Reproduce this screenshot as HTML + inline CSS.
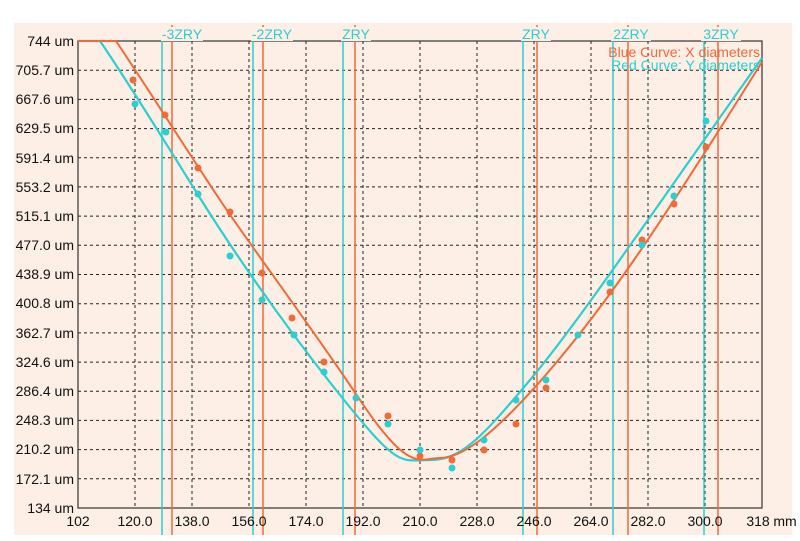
<!DOCTYPE html><html><head><meta charset="utf-8"><style>body{margin:0;background:#fff}svg{display:block}text{font-family:"Liberation Sans",sans-serif}</style></head><body>
<svg width="800" height="541" xmlns="http://www.w3.org/2000/svg">
<rect x="14" y="23" width="778" height="512" fill="#fdefe5"/>
<g stroke="#222" stroke-dasharray="3,3" stroke-width="1">
<line x1="78" y1="70.2" x2="762" y2="70.2"/><line x1="78" y1="99.4" x2="762" y2="99.4"/><line x1="78" y1="128.6" x2="762" y2="128.6"/><line x1="78" y1="157.8" x2="762" y2="157.8"/><line x1="78" y1="186.9" x2="762" y2="186.9"/><line x1="78" y1="216.1" x2="762" y2="216.1"/><line x1="78" y1="245.3" x2="762" y2="245.3"/><line x1="78" y1="274.5" x2="762" y2="274.5"/><line x1="78" y1="303.7" x2="762" y2="303.7"/><line x1="78" y1="332.9" x2="762" y2="332.9"/><line x1="78" y1="362.1" x2="762" y2="362.1"/><line x1="78" y1="391.3" x2="762" y2="391.3"/><line x1="78" y1="420.4" x2="762" y2="420.4"/><line x1="78" y1="449.6" x2="762" y2="449.6"/><line x1="78" y1="478.8" x2="762" y2="478.8"/>
<line x1="135" y1="41" x2="135" y2="508"/><line x1="192" y1="41" x2="192" y2="508"/><line x1="249" y1="41" x2="249" y2="508"/><line x1="306" y1="41" x2="306" y2="508"/><line x1="363" y1="41" x2="363" y2="508"/><line x1="420" y1="41" x2="420" y2="508"/><line x1="477" y1="41" x2="477" y2="508"/><line x1="534" y1="41" x2="534" y2="508"/><line x1="591" y1="41" x2="591" y2="508"/><line x1="648" y1="41" x2="648" y2="508"/><line x1="705" y1="41" x2="705" y2="508"/>
</g>
<rect x="78" y="41" width="684" height="467" fill="none" stroke="#333" stroke-width="1.2"/>
<g stroke-width="1.5">
<line x1="162" y1="38" x2="162" y2="535" stroke="#2ccfcf"/><line x1="172" y1="25" x2="172" y2="535" stroke="#f06a3a"/>
<line x1="253" y1="38" x2="253" y2="535" stroke="#2ccfcf"/><line x1="263" y1="25" x2="263" y2="535" stroke="#f06a3a"/>
<line x1="343" y1="38" x2="343" y2="535" stroke="#2ccfcf"/><line x1="355" y1="25" x2="355" y2="535" stroke="#f06a3a"/>
<line x1="523" y1="38" x2="523" y2="535" stroke="#2ccfcf"/><line x1="537" y1="25" x2="537" y2="535" stroke="#f06a3a"/>
<line x1="613" y1="38" x2="613" y2="535" stroke="#2ccfcf"/><line x1="628" y1="25" x2="628" y2="535" stroke="#f06a3a"/>
<line x1="704" y1="38" x2="704" y2="535" stroke="#2ccfcf"/><line x1="718" y1="25" x2="718" y2="535" stroke="#f06a3a"/>
</g>
<g font-size="14" fill="#2ccfcf" text-anchor="middle">
<rect x="161" y="27" width="42" height="14" fill="#fdefe5"/><text x="182" y="39">-3ZRY</text>
<rect x="251" y="27" width="42" height="14" fill="#fdefe5"/><text x="272" y="39">-2ZRY</text>
<rect x="341" y="27" width="30" height="14" fill="#fdefe5"/><text x="356" y="39">ZRY</text>
<rect x="521" y="27" width="30" height="14" fill="#fdefe5"/><text x="536" y="39">ZRY</text>
<rect x="611" y="27" width="40" height="14" fill="#fdefe5"/><text x="631" y="39">2ZRY</text>
<rect x="701" y="27" width="40" height="14" fill="#fdefe5"/><text x="721" y="39">3ZRY</text>
</g>
<text x="760" y="57" font-size="14" fill="#f06a3a" text-anchor="end">Blue Curve: X diameters</text>
<text x="760" y="70" font-size="14" fill="#2ccfcf" text-anchor="end">Red Curve: Y diameters</text>
<path d="M78,41 L100,41 C130,85 170,150 200,198 S280,320 340,395 S400,460 430,460 S480,440 530,380 S640,230 762,58" fill="none" stroke="#2ccfcf" stroke-width="2.2"/>
<path d="M78,41 L116,41 C150,92 190,155 220,200 S310,325 360,400 S420,458 440,458 S490,440 550,370 S660,225 762,62" fill="none" stroke="#f06a3a" stroke-width="2"/>
<g fill="#f06a3a">
<circle cx="133" cy="80" r="3.5"/><circle cx="165" cy="115" r="3.5"/><circle cx="198" cy="168" r="3.5"/><circle cx="230" cy="212" r="3.5"/><circle cx="262" cy="273" r="3.5"/><circle cx="292" cy="318" r="3.5"/><circle cx="324" cy="362" r="3.5"/><circle cx="388" cy="416" r="3.5"/><circle cx="420" cy="456" r="3.5"/><circle cx="452" cy="460" r="3.5"/><circle cx="484" cy="450" r="3.5"/><circle cx="516" cy="424" r="3.5"/><circle cx="546" cy="388" r="3.5"/><circle cx="610" cy="292" r="3.5"/><circle cx="642" cy="240" r="3.5"/><circle cx="674" cy="204" r="3.5"/><circle cx="706" cy="147" r="3.5"/>
</g>
<g fill="#2ccfcf">
<circle cx="135" cy="104" r="3.5"/><circle cx="166" cy="132" r="3.5"/><circle cx="198" cy="194" r="3.5"/><circle cx="230" cy="256" r="3.5"/><circle cx="262" cy="300" r="3.5"/><circle cx="294" cy="335" r="3.5"/><circle cx="324" cy="372" r="3.5"/><circle cx="356" cy="398" r="3.5"/><circle cx="388" cy="424" r="3.5"/><circle cx="420" cy="450" r="3.5"/><circle cx="452" cy="468" r="3.5"/><circle cx="484" cy="440" r="3.5"/><circle cx="516" cy="400" r="3.5"/><circle cx="546" cy="380" r="3.5"/><circle cx="578" cy="335" r="3.5"/><circle cx="610" cy="283" r="3.5"/><circle cx="642" cy="245" r="3.5"/><circle cx="674" cy="196" r="3.5"/><circle cx="706" cy="121" r="3.5"/>
</g>
<g font-size="14" fill="#111" text-anchor="end">
<text x="74" y="46">744 um</text><text x="74" y="75">705.7 um</text><text x="74" y="104">667.6 um</text><text x="74" y="133">629.5 um</text><text x="74" y="163">591.4 um</text><text x="74" y="192">553.2 um</text><text x="74" y="221">515.1 um</text><text x="74" y="250">477.0 um</text><text x="74" y="279">438.9 um</text><text x="74" y="308">400.8 um</text><text x="74" y="338">362.7 um</text><text x="74" y="367">324.6 um</text><text x="74" y="396">286.4 um</text><text x="74" y="425">248.3 um</text><text x="74" y="454">210.2 um</text><text x="74" y="484">172.1 um</text><text x="74" y="513">134 um</text>
</g>
<g font-size="14" fill="#111" text-anchor="middle">
<text x="78" y="526">102</text><text x="135" y="526">120.0</text><text x="192" y="526">138.0</text><text x="249" y="526">156.0</text><text x="306" y="526">174.0</text><text x="363" y="526">192.0</text><text x="420" y="526">210.0</text><text x="477" y="526">228.0</text><text x="534" y="526">246.0</text><text x="591" y="526">264.0</text><text x="648" y="526">282.0</text><text x="705" y="526">300.0</text><text x="758" y="526">318</text><text x="785" y="526">mm</text>
</g>
</svg></body></html>
